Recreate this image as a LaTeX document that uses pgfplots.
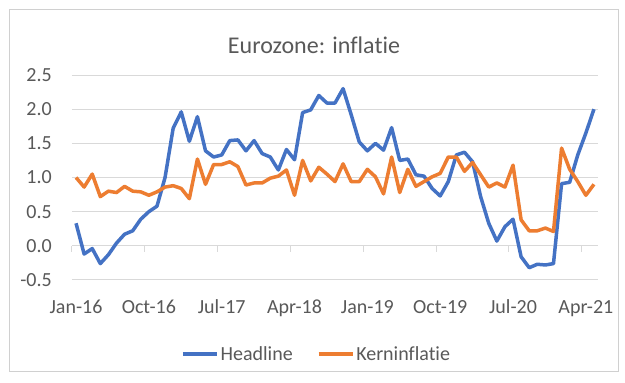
\documentclass[border=0pt]{standalone}
\usepackage{pgfplots}
\usepackage{pgfplotstable}
\pgfplotsset{compat=1.18}
\usepackage{fontspec}
\setmainfont{Carlito}[Ligatures=NoCommon]
\definecolor{hblue}{HTML}{4472C4}
\definecolor{korange}{HTML}{ED7D31}
\definecolor{txt}{HTML}{595959}
\definecolor{gridc}{HTML}{D9D9D9}
\definecolor{framec}{HTML}{D0D0D0}

\pgfplotstableread{
i h k
0 0.33 1.00
1 -0.12 0.86
2 -0.04 1.05
3 -0.26 0.72
4 -0.13 0.80
5 0.04 0.78
6 0.17 0.87
7 0.22 0.80
8 0.39 0.79
9 0.50 0.74
10 0.58 0.79
11 1.00 0.86
12 1.72 0.88
13 1.96 0.84
14 1.53 0.69
15 1.89 1.27
16 1.39 0.90
17 1.30 1.19
18 1.33 1.19
19 1.54 1.23
20 1.55 1.16
21 1.39 0.89
22 1.54 0.92
23 1.35 0.92
24 1.30 0.99
25 1.11 1.02
26 1.41 1.11
27 1.26 0.74
28 1.95 1.25
29 1.99 0.95
30 2.20 1.15
31 2.09 1.05
32 2.09 0.94
33 2.30 1.20
34 1.92 0.94
35 1.52 0.94
36 1.39 1.12
37 1.50 1.01
38 1.40 0.76
39 1.73 1.30
40 1.25 0.78
41 1.27 1.12
42 1.04 0.87
43 1.02 0.94
44 0.84 1.01
45 0.73 1.06
46 0.94 1.30
47 1.33 1.30
48 1.37 1.09
49 1.23 1.22
50 0.72 1.04
51 0.33 0.86
52 0.07 0.92
53 0.28 0.86
54 0.39 1.18
55 -0.16 0.38
56 -0.32 0.22
57 -0.27 0.22
58 -0.28 0.26
59 -0.26 0.21
60 0.91 1.43
61 0.93 1.12
62 1.33 0.94
63 1.65 0.74
64 2.00 0.90
}\datatable

\begin{document}
\begin{tikzpicture}[x=1pt,y=1pt]
\path[fill=white] (0,0) rectangle (625,383);
\draw[framec, line width=1pt] (9,11) rectangle (618,373);
\node[txt, anchor=base, inner sep=0pt, font=\fontsize{24}{28}\selectfont] at (314,329) {Eurozone: inflatie};
\begin{axis}[
  at={(72pt,103pt)}, anchor=south west,
  scale only axis, width=526pt, height=205pt,
  xmin=-0.5, xmax=64.5, ymin=-0.5, ymax=2.5,
  ytick={-0.5,0,0.5,1,1.5,2,2.5},
  xtick={0,9,18,27,36,45,54,63},
  xticklabels={Jan-16,Oct-16,Jul-17,Apr-18,Jan-19,Oct-19,Jul-20,Apr-21},
  /pgf/number format/assume math mode=true,
  yticklabel={\pgfmathprintnumber[fixed,fixed zerofill,precision=1]{\tick}},
  ticklabel style={font=\fontsize{20}{24}\selectfont, text=txt},
  yticklabel style={anchor=east, inner sep=0pt, xshift=-20pt},
  xticklabel style={anchor=base, inner sep=0pt, yshift=-34pt},
  axis line style={draw=none},
  major tick style={draw=none},
  ymajorgrids,
  grid style={gridc, line width=1pt},
  clip=false,
  legend style={at={(0.465,-0.361)}, anchor=center, draw=none, fill=none,
    font=\fontsize{20}{24}\selectfont, text=txt,
    /tikz/every even column/.append style={column sep=22pt},
    inner sep=0pt},
  legend columns=2,
  legend image code/.code={\draw[#1] (0pt,0pt) -- (34pt,0pt);},
]
\draw[gridc, line width=1pt] (axis cs:-0.5,0) -- ++(0pt,-6pt);
\draw[gridc, line width=1pt] (axis cs:8.5,0) -- ++(0pt,-6pt);
\draw[gridc, line width=1pt] (axis cs:17.5,0) -- ++(0pt,-6pt);
\draw[gridc, line width=1pt] (axis cs:26.5,0) -- ++(0pt,-6pt);
\draw[gridc, line width=1pt] (axis cs:35.5,0) -- ++(0pt,-6pt);
\draw[gridc, line width=1pt] (axis cs:44.5,0) -- ++(0pt,-6pt);
\draw[gridc, line width=1pt] (axis cs:53.5,0) -- ++(0pt,-6pt);
\draw[gridc, line width=1pt] (axis cs:62.5,0) -- ++(0pt,-6pt);
\addplot[hblue, line width=3.5pt, line join=round, no markers] table[x=i, y=h] {\datatable};
\addlegendentry{Headline}
\addplot[korange, line width=3.5pt, line join=round, no markers] table[x=i, y=k] {\datatable};
\addlegendentry{Kerninflatie}
\end{axis}
\end{tikzpicture}
\end{document}
